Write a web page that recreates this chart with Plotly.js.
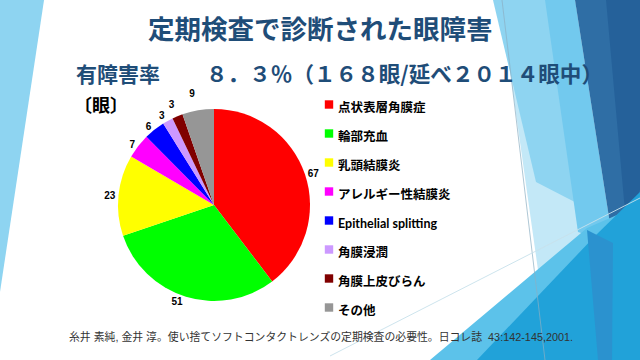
<!DOCTYPE html>
<html><head><meta charset="utf-8">
<script src="https://cdn.plot.ly/plotly-3.0.1.min.js"></script>
<style>
html,body{margin:0;padding:0;background:#fff;}
#chart{width:640px;height:360px;}
#chart path.legendpie{transform:translate(31px,0px) scale(0.7);}
#chart path.textline{display:none !important;}
</style>
</head><body><div id="chart"></div>
<script>
const categories = ['点状表層角膜症','輪部充血','乳頭結膜炎','アレルギー性結膜炎','Epithelial splitting','角膜浸潤','角膜上皮びらん','その他'];
const eyeCounts = [67, 51, 23, 7, 6, 3, 3, 9];
const sliceColors = ['#FF0000','#00FF00','#FFFF00','#FF00FF','#0000FF','#CC99FF','#800000','#969696'];
const titleText = '定期検査で診断された眼障害';
const rateLabel = '有障害率';
const rateText = '８．３％（１６８眼/延べ２０１４眼中）';
const unitLabel = '〔眼〕';
const sourceText = '糸井 素純, 金井 淳。使い捨てソフトコンタクトレンズの定期検査の必要性。日コレ誌  43:142-145,2001.';

const W = 640, H = 360;
const px = x => x / W, py = y => 1 - y / H;
function poly(pts, color) {
  return {type: 'path', xref: 'paper', yref: 'paper', layer: 'below',
    path: 'M' + pts.map(p => px(p[0]).toFixed(4) + ',' + py(p[1]).toFixed(4)).join('L') + 'Z',
    fillcolor: color, line: {width: 0}};
}
function seg(a, b, color) {
  return {type: 'line', xref: 'paper', yref: 'paper', layer: 'below',
    x0: px(a[0]), y0: py(a[1]), x1: px(b[0]), y1: py(b[1]), line: {color: color, width: 1}};
}
const shapes = [
  poly([[0,0],[44,0],[0,292]], '#8ed4f1'),
  poly([[500,0],[575,0],[613,243],[545,320]], '#c3e8f7'),
  poly([[493,0],[575,0],[600,215],[536,182]], '#8ed4f1'),
  poly([[545,0],[575,0],[613,243],[578,232]], '#72c9ee'),
  poly([[575,0],[640,0],[640,195],[613,243]], '#2f6ea5'),
  poly([[606,0],[640,0],[640,190],[626,222]], '#25619a'),
  poly([[430,360],[587,228],[640,205],[640,360]], '#5cc2ea'),
  poly([[477,360],[595,236],[640,192],[640,360]], '#21a2d9'),
  poly([[587,230],[613,243],[612,360],[598,360]], '#2b92cf'),
  seg([502,0],[545,360], 'rgba(140,175,195,0.7)'),
  seg([330,356],[640,198], 'rgba(200,225,235,0.9)')
];

const cjk = 'Noto Sans CJK JP';
const annotations = [
  {text: titleText, x: px(320), y: py(28), xref: 'paper', yref: 'paper', xanchor: 'center', yanchor: 'middle', showarrow: false,
   font: {family: cjk, size: 26.5, color: '#1F4D78', weight: 'bold'}},
  {text: rateLabel, x: px(74), y: py(73), xref: 'paper', yref: 'paper', xanchor: 'left', yanchor: 'middle', showarrow: false,
   font: {family: cjk, size: 21, color: '#1F4D78', weight: 'bold'}},
  {text: rateText, x: px(204), y: py(73), xref: 'paper', yref: 'paper', xanchor: 'left', yanchor: 'middle', showarrow: false,
   font: {family: cjk, size: 21.6, color: '#1F4D78', weight: 'bold'}},
  {text: unitLabel, x: px(72), y: py(104), xref: 'paper', yref: 'paper', xanchor: 'left', yanchor: 'middle', showarrow: false,
   font: {family: cjk, size: 18, color: '#000000', weight: 'bold'}},
  {text: sourceText, x: px(67), y: py(336), xref: 'paper', yref: 'paper', xanchor: 'left', yanchor: 'middle', showarrow: false,
   font: {family: '"Liberation Sans", "Noto Sans CJK JP"', size: 10.85, color: '#333333'}}
];

const trace = {
  type: 'pie',
  labels: categories.map(c => '<span style="font-size:12.5px">' + c + '</span>'),
  values: eyeCounts,
  marker: {colors: sliceColors, line: {width: 0}},
  sort: false,
  direction: 'clockwise',
  rotation: 0,
  textinfo: 'value',
  textposition: 'outside',
  outsidetextfont: {family: 'Liberation Sans', size: 10, color: '#000000', weight: 'bold'},
  hoverinfo: 'none',
  domain: {x: [px(118), px(310)], y: [py(305), py(105)]}
};

const layout = {
  width: W, height: H,
  margin: {l: 0, r: 0, t: 0, b: 0, pad: 0},
  paper_bgcolor: '#ffffff',
  plot_bgcolor: 'rgba(0,0,0,0)',
  showlegend: true,
  legend: {x: px(298), y: py(85), xanchor: 'left', yanchor: 'top', bgcolor: 'rgba(0,0,0,0)',
    font: {family: 'Lato, "Noto Sans CJK JP"', size: 20, color: '#000000', weight: 'bold'}},
  shapes: shapes,
  annotations: annotations
};

Plotly.newPlot('chart', [trace], layout, {displayModeBar: false, staticPlot: true});
</script>
</body></html>
